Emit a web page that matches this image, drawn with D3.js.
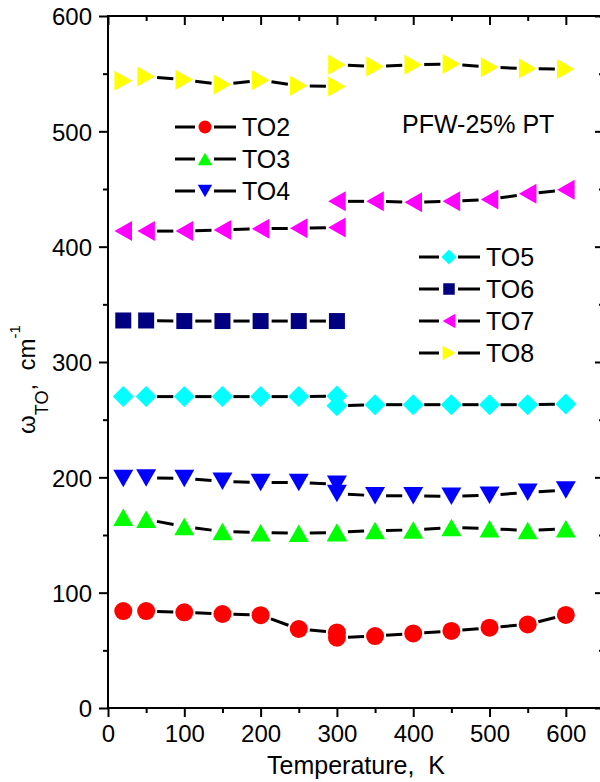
<!DOCTYPE html>
<html>
<head>
<meta charset="utf-8">
<script src="https://cdn.jsdelivr.net/npm/d3@7"></script>
<style>
  body { margin: 0; background: #fff; }
  svg { display: block; }
  text { font-family: "Liberation Sans", Arial, sans-serif; fill: #000; }
</style>
</head>
<body>
<div id="container"></div>
<script>
// temperatures (K); 300 K appears twice (values before / after the transition)
const temps = [20, 50, 100, 150, 200, 250, 300, 300, 350, 400, 450, 500, 550, 600];
const tempsLow = [20, 50, 100, 150, 200, 250, 300];

const to2 = [84, 84, 83, 81.5, 80.5, 68.5, 65.5, 61, 62.4, 64.7, 66.8, 69.6, 72.5, 80.7];
const to3 = [165.4, 163.6, 157.3, 153, 152, 151.5, 152, 152.5, 153.8, 154.4, 156.5, 155.5, 154, 155.5];
const to4 = [199, 199.5, 199, 196.5, 195.5, 195.5, 194, 186, 184, 184, 183.5, 184.5, 187, 189];
const to5 = [270, 270, 270, 270, 270, 270, 270.5, 262, 263, 263, 263, 263, 263, 263.5];
const to6 = [336, 336, 335.5, 335.5, 335.5, 335.5, 335.5];
const to7 = [413.5, 413.5, 413.5, 414.5, 415.5, 416, 416.6, 439.3, 439.3, 438.6, 439.3, 441, 445.8, 449.3];
const to8 = [543.8, 547.5, 544.7, 540.5, 544.4, 539.5, 538.9, 557.7, 556.2, 557.7, 558.3, 555.6, 554.4, 554];

const seriesNames = ['TO2', 'TO3', 'TO4', 'TO5', 'TO6', 'TO7', 'TO8'];
const xTicks = [0, 100, 200, 300, 400, 500, 600];
const xMinor = [50, 150, 250, 350, 450, 550];
const yTicks = [0, 100, 200, 300, 400, 500, 600];
const yMinor = [50, 150, 250, 350, 450, 550];

const width = 600, height = 782;
const x = d3.scaleLinear().domain([0, 650]).range([108, 604]);
const y = d3.scaleLinear().domain([0, 600]).range([708, 16]);

const series = [
  { name: seriesNames[0], t: temps, v: to2, shape: 'circle', color: '#ff0000' },
  { name: seriesNames[1], t: temps, v: to3, shape: 'up', color: '#00ff00' },
  { name: seriesNames[2], t: temps, v: to4, shape: 'down', color: '#0000ff' },
  { name: seriesNames[3], t: temps, v: to5, shape: 'diamond', color: '#00ffff' },
  { name: seriesNames[4], t: tempsLow, v: to6, shape: 'square', color: '#000080' },
  { name: seriesNames[5], t: temps, v: to7, shape: 'left', color: '#ff00ff' },
  { name: seriesNames[6], t: temps, v: to8, shape: 'right', color: '#ffff00' }
];

function symbolPath(shape, k) {
  const h = 8.75 * k, b = 10 * k;
  switch (shape) {
    case 'circle': { const r = 9 * k; return `M${-r},0A${r},${r} 0 1,0 ${r},0A${r},${r} 0 1,0 ${-r},0Z`; }
    case 'square': { const s = 8 * k; return `M${-s},${-s}H${s}V${s}H${-s}Z`; }
    case 'diamond': { const d = 10.5 * k; return `M0,${-d}L${d},0L0,${d}L${-d},0Z`; }
    case 'up': return `M0,${-h}L${b},${h}L${-b},${h}Z`;
    case 'down': return `M0,${h}L${b},${-h}L${-b},${-h}Z`;
    case 'left': return `M${-h},0L${h},${-b}L${h},${b}Z`;
    case 'right': return `M${h},0L${-h},${-b}L${-h},${b}Z`;
  }
}

const svg = d3.select('#container').append('svg')
  .attr('width', width).attr('height', height);

// axes
function styleAxis(g) {
  g.select('.domain').remove();
  g.selectAll('.tick line').attr('stroke', '#000').attr('stroke-width', 2);
  g.selectAll('.tick text').style('font-size', '24px').attr('fill', '#000');
}

svg.append('g').attr('transform', 'translate(0,708)')
  .call(d3.axisBottom(x).tickValues(xTicks).tickSize(9).tickPadding(7).tickFormat(d3.format('d')))
  .call(styleAxis)
  .selectAll('.tick text').attr('dy', '0.75em');
svg.append('g').attr('transform', 'translate(0,708)')
  .call(d3.axisBottom(x).tickValues(xMinor).tickSize(5).tickFormat(''))
  .call(styleAxis);

svg.append('g').attr('transform', 'translate(108,0)')
  .call(d3.axisLeft(y).tickValues(yTicks).tickSize(9).tickPadding(7).tickFormat(d3.format('d')))
  .call(styleAxis)
  .selectAll('.tick text').attr('dy', '0.37em');
svg.append('g').attr('transform', 'translate(108,0)')
  .call(d3.axisLeft(y).tickValues(yMinor).tickSize(5).tickFormat(''))
  .call(styleAxis);

// top and right: inward ticks, no labels
svg.append('g').attr('transform', 'translate(0,16)')
  .call(d3.axisBottom(x).tickValues(xTicks).tickSize(9).tickFormat(''))
  .call(styleAxis);
svg.append('g').attr('transform', 'translate(0,16)')
  .call(d3.axisBottom(x).tickValues(xMinor).tickSize(5).tickFormat(''))
  .call(styleAxis);
svg.append('g').attr('transform', 'translate(604,0)')
  .call(d3.axisLeft(y).tickValues(yTicks).tickSize(9).tickFormat(''))
  .call(styleAxis);
svg.append('g').attr('transform', 'translate(604,0)')
  .call(d3.axisLeft(y).tickValues(yMinor).tickSize(5).tickFormat(''))
  .call(styleAxis);

svg.append('rect')
  .attr('x', x(0)).attr('y', y(600))
  .attr('width', x(650) - x(0)).attr('height', y(0) - y(600))
  .attr('fill', 'none').attr('stroke', '#000').attr('stroke-width', 2);

// series: line segments with gaps around symbols, then symbols
const gap = 11;
series.forEach(s => {
  const pts = s.t.map((t, i) => [x(t), y(s.v[i])]);
  const g = svg.append('g');
  for (let i = 0; i < pts.length - 1; i++) {
    const [x1, y1] = pts[i], [x2, y2] = pts[i + 1];
    const L = Math.hypot(x2 - x1, y2 - y1);
    if (L < 29) continue;   // symbols too close: the gap swallows the line
    const ux = (x2 - x1) / L, uy = (y2 - y1) / L;
    g.append('line')
      .attr('x1', x1 + ux * gap).attr('y1', y1 + uy * gap)
      .attr('x2', x2 - ux * gap).attr('y2', y2 - uy * gap)
      .attr('stroke', '#000').attr('stroke-width', 3);
  }
  g.selectAll('path').data(pts).enter().append('path')
    .attr('transform', d => `translate(${d[0]},${d[1]})`)
    .attr('d', symbolPath(s.shape, 1))
    .attr('fill', s.color);
});

// legends
function legend(items, cx, y0) {
  items.forEach((s, i) => {
    const yy = y0 + i * 32;
    const g = svg.append('g');
    g.append('line').attr('x1', cx - 30).attr('x2', cx - 10).attr('y1', yy).attr('y2', yy)
      .attr('stroke', '#000').attr('stroke-width', 3);
    g.append('line').attr('x1', cx + 9).attr('x2', cx + 31).attr('y1', yy).attr('y2', yy)
      .attr('stroke', '#000').attr('stroke-width', 3);
    g.append('path').attr('transform', `translate(${cx},${yy})`)
      .attr('d', symbolPath(s.shape, 0.72)).attr('fill', s.color);
    g.append('text').attr('x', cx + 37).attr('y', yy + 8.5)
      .style('font-size', '25px').text(s.name);
  });
}
legend(series.slice(0, 3), 205, 127);
legend(series.slice(3), 449, 257);

svg.append('text').attr('x', 402).attr('y', 133)
  .style('font-size', '25px').text('PFW-25% PT');

// axis titles
svg.append('text').attr('x', (x(0) + x(650)) / 2).attr('y', 774)
  .attr('text-anchor', 'middle').style('font-size', '25px')
  .attr('xml:space', 'preserve').text('Temperature,  K');

const yl = svg.append('text')
  .attr('transform', 'translate(35,434) rotate(-90)')
  .attr('xml:space', 'preserve')
  .style('font-size', '24px');
yl.append('tspan').text('ω');
yl.append('tspan').attr('dy', 13).style('font-size', '18px').text('TO');
yl.append('tspan').attr('dy', -13).text(',  cm');
yl.append('tspan').attr('dy', -15).style('font-size', '15px').text('-1');
</script>
</body>
</html>
